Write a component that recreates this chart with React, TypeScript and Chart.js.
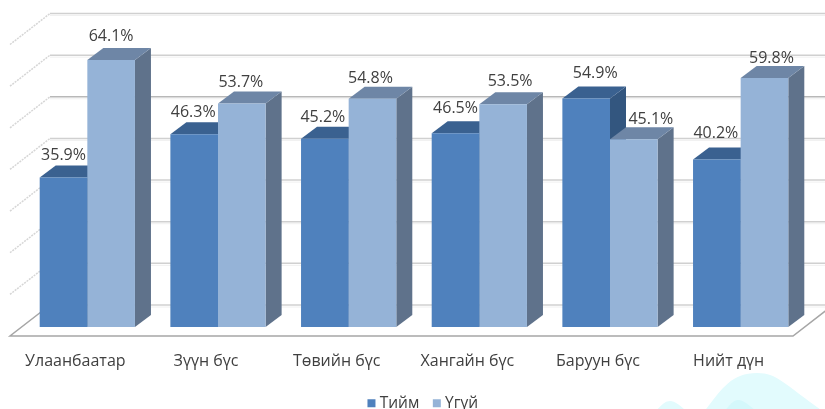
import React, { useEffect, useRef } from "react";
import { Chart, registerables } from "chart.js";

Chart.register(...registerables);

const categories = ["Улаанбаатар", "Зүүн бүс", "Төвийн бүс", "Хангайн бүс", "Баруун бүс", "Нийт дүн"];
const yesValues = [35.9, 46.3, 45.2, 46.5, 54.9, 40.2];
const noValues = [64.1, 53.7, 54.8, 53.5, 45.1, 59.8];
const seriesNames = ["Тийм", "Үгүй"];
const wallTicks = [0, 10, 20, 30, 40, 50, 60, 70];

const FONT = "'Open Sans', 'Noto Sans', sans-serif";
const TEXT = "#404040";
const FRONT = ["#4f81bd", "#95b3d7"];
const TOP = ["#3a6190", "#6e86a6"];
const SIDE = ["#33567f", "#5f728b"];
const DEPTH_X = 16;
const DEPTH_Y = 12;
const LEGEND_SHIFT = 10.5;

// label nudges, in pixels, for the labels the source placed off-centre
const labelDx = [
  [0, -1, -2, 0, 9, -1],
  [0, -1, -2, 7, 17, 7],
];
const labelRise = [
  [23, 23, 22, 26, 26, 27],
  [25, 22, 21, 24, 21, 21],
];

const backdrop = {
  id: "backdrop",
  afterLayout(chart: any) {
    chart.legend.left += LEGEND_SHIFT;
    chart.legend.right += LEGEND_SHIFT;
  },
  beforeDraw(chart: any) {
    const c = chart.ctx;
    c.save();
    c.fillStyle = "#e2fbfd";
    c.beginPath();
    c.moveTo(704, 412);
    c.bezierCurveTo(722, 388, 732, 373, 757, 373);
    c.bezierCurveTo(778, 373, 785, 385, 824, 412);
    c.closePath();
    c.moveTo(655, 412);
    c.bezierCurveTo(662, 404, 666, 401, 670, 401);
    c.bezierCurveTo(675, 401, 680, 405, 687, 412);
    c.closePath();
    c.fill();
    c.fillStyle = "#d4f8fb";
    c.beginPath();
    c.moveTo(724, 412);
    c.bezierCurveTo(730, 404, 734, 400, 738, 400);
    c.bezierCurveTo(743, 400, 748, 404, 757, 412);
    c.closePath();
    c.fill();
    c.restore();
  },
};

const walls = {
  id: "walls",
  beforeDatasetsDraw(chart: any) {
    const c = chart.ctx;
    const y = chart.scales.y;
    const wallLeft = 50;
    const wallRight = 833;
    const frontLeft = 10;
    const frontRight = 793;
    c.save();
    wallTicks.forEach((t) => {
      const p = y.getPixelForValue(t);
      const back = p - 22;
      const front = p + 9;
      c.strokeStyle = t === 50 ? "#b8b8b8" : "#d0d0d0";
      c.lineWidth = 1.5;
      c.beginPath();
      c.moveTo(wallLeft, back);
      c.lineTo(wallRight, back);
      c.stroke();
      c.strokeStyle = "#f0f0f0";
      c.lineWidth = 1;
      c.beginPath();
      c.moveTo(wallLeft, back + 2);
      c.lineTo(wallRight, back + 2);
      c.stroke();
      if (t > 0) {
        c.strokeStyle = "#d6d6d6";
        c.lineWidth = 1.5;
        c.setLineDash([2, 1]);
        c.beginPath();
        c.moveTo(frontLeft, front);
        c.lineTo(wallLeft, back);
        c.stroke();
        c.setLineDash([]);
      }
    });
    const p0 = y.getPixelForValue(0);
    c.strokeStyle = "#a6a6a6";
    c.lineWidth = 1.5;
    c.beginPath();
    c.moveTo(wallLeft, p0 - 22);
    c.lineTo(frontLeft, p0 + 9);
    c.lineTo(frontRight, p0 + 9);
    c.lineTo(wallRight, p0 - 22);
    c.stroke();
    c.restore();
  },
};

const bars3d = {
  id: "bars3d",
  beforeDatasetsDraw(chart: any) {
    const c = chart.ctx;
    c.save();
    categories.forEach((_, i) => {
      [0, 1].forEach((s) => {
        const el = chart.getDatasetMeta(s).data[i];
        const half = el.width / 2;
        const l = el.x - half;
        const r = el.x + half;
        const t = el.y;
        const b = el.base;
        c.fillStyle = SIDE[s];
        c.beginPath();
        c.moveTo(r, t);
        c.lineTo(r + DEPTH_X, t - DEPTH_Y);
        c.lineTo(r + DEPTH_X, b - DEPTH_Y);
        c.lineTo(r, b);
        c.closePath();
        c.fill();
        c.fillStyle = TOP[s];
        c.beginPath();
        c.moveTo(l, t);
        c.lineTo(l + DEPTH_X, t - DEPTH_Y);
        c.lineTo(r + DEPTH_X, t - DEPTH_Y);
        c.lineTo(r, t);
        c.closePath();
        c.fill();
      });
    });
    c.restore();
  },
  afterDatasetsDraw(chart: any) {
    const c = chart.ctx;
    c.save();
    c.font = `16px ${FONT}`;
    c.fillStyle = TEXT;
    c.textAlign = "center";
    c.textBaseline = "middle";
    [0, 1].forEach((s) => {
      const meta = chart.getDatasetMeta(s);
      const values = chart.data.datasets[s].data;
      meta.data.forEach((el: any, i: number) => {
        c.fillText(`${values[i].toFixed(1)}%`, el.x + labelDx[s][i], el.y - labelRise[s][i] + 1);
      });
    });
    c.restore();
  },
};

export default function App() {
  const ref = useRef<HTMLCanvasElement>(null);
  useEffect(() => {
    document.body.style.margin = "0";
    const chart = new Chart(ref.current as HTMLCanvasElement, {
      type: "bar",
      data: {
        labels: categories,
        datasets: [
          { label: seriesNames[0], data: yesValues, backgroundColor: FRONT[0] },
          { label: seriesNames[1], data: noValues, backgroundColor: FRONT[1] },
        ],
      },
      plugins: [backdrop, walls, bars3d],
      options: {
        animation: false,
        responsive: false,
        layout: { padding: { left: 22, right: 19, top: 35.5, bottom: 0 } },
        datasets: { bar: { categoryPercentage: 0.729, barPercentage: 1 } },
        scales: {
          x: {
            grid: { display: false },
            border: { display: false },
            afterFit(scale: any) {
              scale.height = 51.5;
            },
            ticks: {
              color: TEXT,
              font: { family: FONT, size: 16 },
              padding: 17,
              labelOffset: -12,
              maxRotation: 0,
              autoSkip: false,
            },
          },
          y: { display: false, min: 0, max: 70 },
        },
        plugins: {
          tooltip: { enabled: false },
          legend: {
            position: "bottom",
            labels: {
              usePointStyle: true,
              pointStyle: "rect",
              boxWidth: 1,
              boxHeight: 8,
              padding: 17,
              color: TEXT,
              font: { family: FONT, size: 15.5 },
            },
          },
        },
      },
    } as any);
    return () => chart.destroy();
  }, []);
  return (
    <div style={{ width: 825, height: 409, overflow: "hidden" }}>
      <canvas ref={ref} width={825} height={421} style={{ display: "block" }} />
    </div>
  );
}
